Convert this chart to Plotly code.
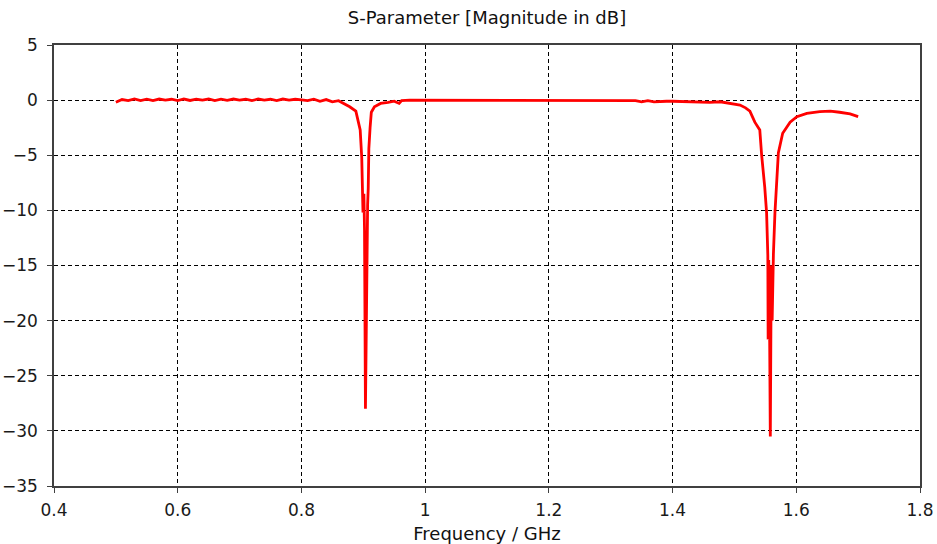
import plotly.graph_objects as go

freq_ghz = [
    0.500, 0.510, 0.520, 0.530, 0.540, 0.550, 0.560, 0.570, 0.580, 0.590,
    0.600, 0.610, 0.620, 0.630, 0.640, 0.650, 0.660, 0.670, 0.680, 0.690,
    0.700, 0.710, 0.720, 0.730, 0.740, 0.750, 0.760, 0.770, 0.780, 0.790,
    0.800, 0.810, 0.820, 0.830, 0.840, 0.850, 0.860, 0.870, 0.878, 0.888,
    0.895, 0.8975, 0.8995, 0.901, 0.902, 0.9035, 0.906, 0.907, 0.908, 0.909,
    0.911, 0.913, 0.918, 0.928, 0.940, 0.950, 0.958, 0.962, 0.975, 1.000,
    1.050, 1.100, 1.150, 1.200, 1.250, 1.300, 1.340, 1.350, 1.360, 1.370,
    1.380, 1.390, 1.400, 1.420, 1.440, 1.460, 1.477, 1.495, 1.509, 1.518,
    1.525, 1.533, 1.541, 1.544, 1.546, 1.549, 1.552, 1.554, 1.5545, 1.5555,
    1.557, 1.558, 1.559, 1.5595, 1.561, 1.563, 1.5655, 1.568, 1.571, 1.578,
    1.590, 1.601, 1.617, 1.638, 1.655, 1.670, 1.687, 1.700,
]

s11_db = [
    -0.20, 0.05, -0.05, 0.10, -0.05, 0.08, -0.04, 0.10, 0.00, 0.08,
    -0.05, 0.10, -0.03, 0.08, 0.00, 0.10, -0.05, 0.08, -0.02, 0.10,
    0.00, 0.08, -0.05, 0.10, 0.00, 0.08, -0.04, 0.10, 0.00, 0.08,
    0.02, -0.05, 0.08, -0.10, 0.05, -0.15, -0.05, -0.35, -0.60, -1.00,
    -2.70, -5.20, -10.20, -8.50, -11.80, -28.00, -12.20, -9.50, -8.00, -4.40,
    -2.50, -1.10, -0.60, -0.30, -0.20, -0.10, -0.30, -0.05, 0.00, 0.00,
    0.00, 0.00, 0.00, 0.00, 0.00, 0.00, -0.05, -0.15, -0.05, -0.15,
    -0.10, -0.10, -0.10, -0.15, -0.15, -0.20, -0.15, -0.30, -0.45, -0.70,
    -1.00, -2.00, -2.70, -5.00, -6.10, -7.90, -10.20, -14.10, -21.70, -14.50,
    -22.00, -30.50, -20.50, -15.00, -20.00, -14.00, -10.20, -8.10, -4.80, -3.00,
    -2.00, -1.50, -1.20, -1.05, -1.00, -1.10, -1.25, -1.50,
]

x_ticks = [0.4, 0.6, 0.8, 1.0, 1.2, 1.4, 1.6, 1.8]
x_tick_labels = ["0.4", "0.6", "0.8", "1", "1.2", "1.4", "1.6", "1.8"]
y_ticks = [5, 0, -5, -10, -15, -20, -25, -30, -35]

FONT = "DejaVu Sans"

fig = go.Figure()
fig.add_trace(go.Scatter(
    x=freq_ghz, y=s11_db, mode="lines",
    line=dict(color="#ff0000", width=2.8),
    showlegend=False, hoverinfo="x+y",
))

axis_common = dict(
    showline=True, mirror=True, linecolor="#404040", linewidth=1.5,
    showgrid=True, gridcolor="#000000", gridwidth=1, griddash="4px,3px",
    zeroline=False, ticks="outside", ticklen=5, tickcolor="#404040",
    tickfont=dict(family=FONT, size=17, color="#1a1a1a"),
    automargin=False,
)

fig.update_layout(
    width=937, height=544,
    margin=dict(l=54, r=17, t=45, b=58),
    paper_bgcolor="white", plot_bgcolor="white",
    title=dict(text="S-Parameter [Magnitude in dB]", x=0.5, xref="paper",
               y=1 - 18 / 544, yanchor="middle",
               font=dict(family=FONT, size=18, color="#111111")),
    xaxis=dict(range=[0.4, 1.8], tickvals=x_ticks, ticktext=x_tick_labels,
               ticklabelstandoff=3,
               title=dict(text="Frequency / GHz", standoff=8,
                          font=dict(family=FONT, size=18, color="#111111")),
               **axis_common),
    yaxis=dict(range=[-35, 5], tickvals=y_ticks, ticklabelstandoff=6,
               **axis_common),
)

fig.write_html("out.html")
